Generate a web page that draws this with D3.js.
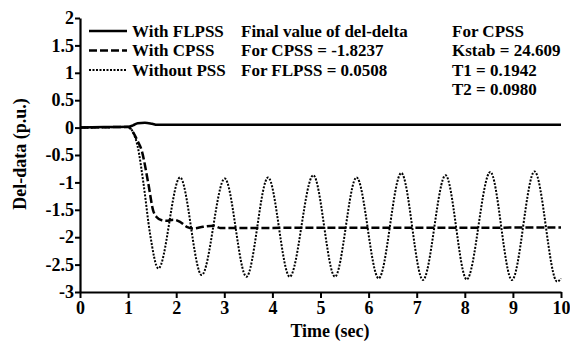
<!DOCTYPE html>
<html>
<head>
<meta charset="utf-8">
<script src="https://cdn.jsdelivr.net/npm/d3@7"></script>
<style>
  body { margin: 0; background: #fff; }
</style>
</head>
<body>
<div id="chart"></div>
<script>
// datos
var timeFL = [0, 0.5, 1.0, 1.1, 1.2, 1.35, 1.5, 1.6, 1.8, 10];
var withFLPSS = [0, 0.01, 0.015, 0.04, 0.08, 0.09, 0.07, 0.052, 0.051, 0.0508];

var timeCP = [0, 1.0, 1.1, 1.2, 1.28, 1.42, 1.52, 1.59, 1.7, 1.8, 1.94, 2.08, 2.22, 2.35, 2.56, 2.77, 2.91, 3.2, 10];
var withCPSS = [0, 0.01, -0.08, -0.25, -0.41, -1.02, -1.51, -1.63, -1.69, -1.70, -1.68, -1.72, -1.81, -1.84, -1.81, -1.79, -1.83, -1.83, -1.8237];

var timeNo = [0, 1.0, 1.1, 1.2, 1.32, 1.455, 1.63, 2.08, 2.53, 3.01, 3.46, 3.91, 4.36, 4.85, 5.30, 5.75, 6.21, 6.68, 7.13, 7.60, 8.04, 8.53, 8.98, 9.45, 9.92, 10];
var withoutPSS = [0, 0.01, -0.08, -0.35, -1.02, -1.93, -2.57, -0.91, -2.69, -0.93, -2.72, -0.91, -2.72, -0.87, -2.72, -0.91, -2.75, -0.83, -2.78, -0.87, -2.77, -0.81, -2.78, -0.80, -2.81, -2.75];

var xTicks = [0, 1, 2, 3, 4, 5, 6, 7, 8, 9, 10];
var yTicks = [2, 1.5, 1, 0.5, 0, -0.5, -1, -1.5, -2, -2.5, -3];

var legendNames = ["With FLPSS", "With CPSS", "Without PSS"];
var noteLines = ["Final value of del-delta", "For CPSS = -1.8237", "For FLPSS = 0.0508"];
var paramLines = ["For CPSS", "Kstab = 24.609", "T1 = 0.1942", "T2 = 0.0980"];

var chartWidth = 570, chartHeight = 344;
var plotLeft = 80, plotRight = 561, plotTop = 18, plotBottom = 292;
var serif = "Liberation Serif";

var svg = d3.select("#chart").append("svg")
  .attr("width", chartWidth)
  .attr("height", chartHeight);

var x = d3.scaleLinear().domain([0, 10]).range([plotLeft, plotRight]);
var y = d3.scaleLinear().domain([-3, 2]).range([plotBottom, plotTop]);

// estilos de cada serie
var styles = [
  { w: 2.5, dash: null },
  { w: 2.5, dash: "8,3" },
  { w: 2, dash: "2,1.5" }
];

var series = [
  d3.zip(timeFL, withFLPSS),
  d3.zip(timeCP, withCPSS),
  d3.zip(timeNo, withoutPSS)
];

var line = d3.line()
  .x(function (d) { return x(d[0]); })
  .y(function (d) { return y(d[1]); })
  .curve(d3.curveMonotoneX);

// ejes
var xAxis = svg.append("g")
  .attr("transform", "translate(0," + plotBottom + ")")
  .call(d3.axisBottom(x).tickValues(xTicks).tickSize(6).tickSizeOuter(0)
    .tickFormat(function (d) { return String(d); }));

var yAxis = svg.append("g")
  .attr("transform", "translate(" + plotLeft + ",0)")
  .call(d3.axisLeft(y).tickValues(yTicks).tickSize(5).tickSizeOuter(0)
    .tickFormat(function (d) { return String(d); }));

[xAxis, yAxis].forEach(function (g) {
  g.attr("font-family", serif).attr("font-size", 18).attr("font-weight", "bold");
  g.select(".domain").attr("stroke-width", 2.2);
  g.selectAll(".tick line").attr("stroke-width", 2);
});
xAxis.selectAll("text").attr("y", 9);
yAxis.selectAll("text").attr("x", -6);

// curvas
svg.selectAll(".serie")
  .data(series)
  .enter()
  .append("path")
  .attr("class", "serie")
  .attr("d", line)
  .attr("fill", "none")
  .attr("stroke", "#000")
  .attr("stroke-width", function (d, i) { return styles[i].w; })
  .attr("stroke-dasharray", function (d, i) { return styles[i].dash; });

// leyenda
var legend = svg.append("g")
  .selectAll("g")
  .data(legendNames)
  .enter()
  .append("g")
  .attr("transform", function (d, i) { return "translate(0," + (31 + i * 19.5) + ")"; });

legend.append("line")
  .attr("x1", 89).attr("x2", 127)
  .attr("stroke", "#000")
  .attr("stroke-width", function (d, i) { return styles[i].w; })
  .attr("stroke-dasharray", function (d, i) { return styles[i].dash; });

legend.append("text")
  .attr("x", 132)
  .attr("y", 5.5)
  .text(function (d) { return d; });

svg.append("g")
  .selectAll("text")
  .data(noteLines)
  .enter()
  .append("text")
  .attr("x", 241)
  .attr("y", function (d, i) { return 36.5 + i * 19.5; })
  .text(function (d) { return d; });

svg.append("g")
  .selectAll("text")
  .data(paramLines)
  .enter()
  .append("text")
  .attr("x", 452)
  .attr("y", function (d, i) { return 36.5 + i * 19.5; })
  .text(function (d) { return d; });

// titulos de ejes
svg.append("text")
  .attr("class", "titulo")
  .attr("x", 330)
  .attr("y", 337)
  .attr("text-anchor", "middle")
  .text("Time (sec)");

svg.append("text")
  .attr("class", "titulo")
  .attr("transform", "translate(26,154) rotate(-90)")
  .attr("text-anchor", "middle")
  .text("Del-data (p.u.)");

// fuente serif en todos los textos fuera de los ejes
svg.selectAll(":scope > g:not(.tick) text, .titulo")
  .attr("font-family", serif)
  .attr("font-size", 17)
  .attr("font-weight", "bold")
  .attr("fill", "#000");
svg.selectAll(".titulo").attr("font-size", 18);
xAxis.selectAll("text").attr("font-size", 18);
yAxis.selectAll("text").attr("font-size", 18);
</script>
</body>
</html>
